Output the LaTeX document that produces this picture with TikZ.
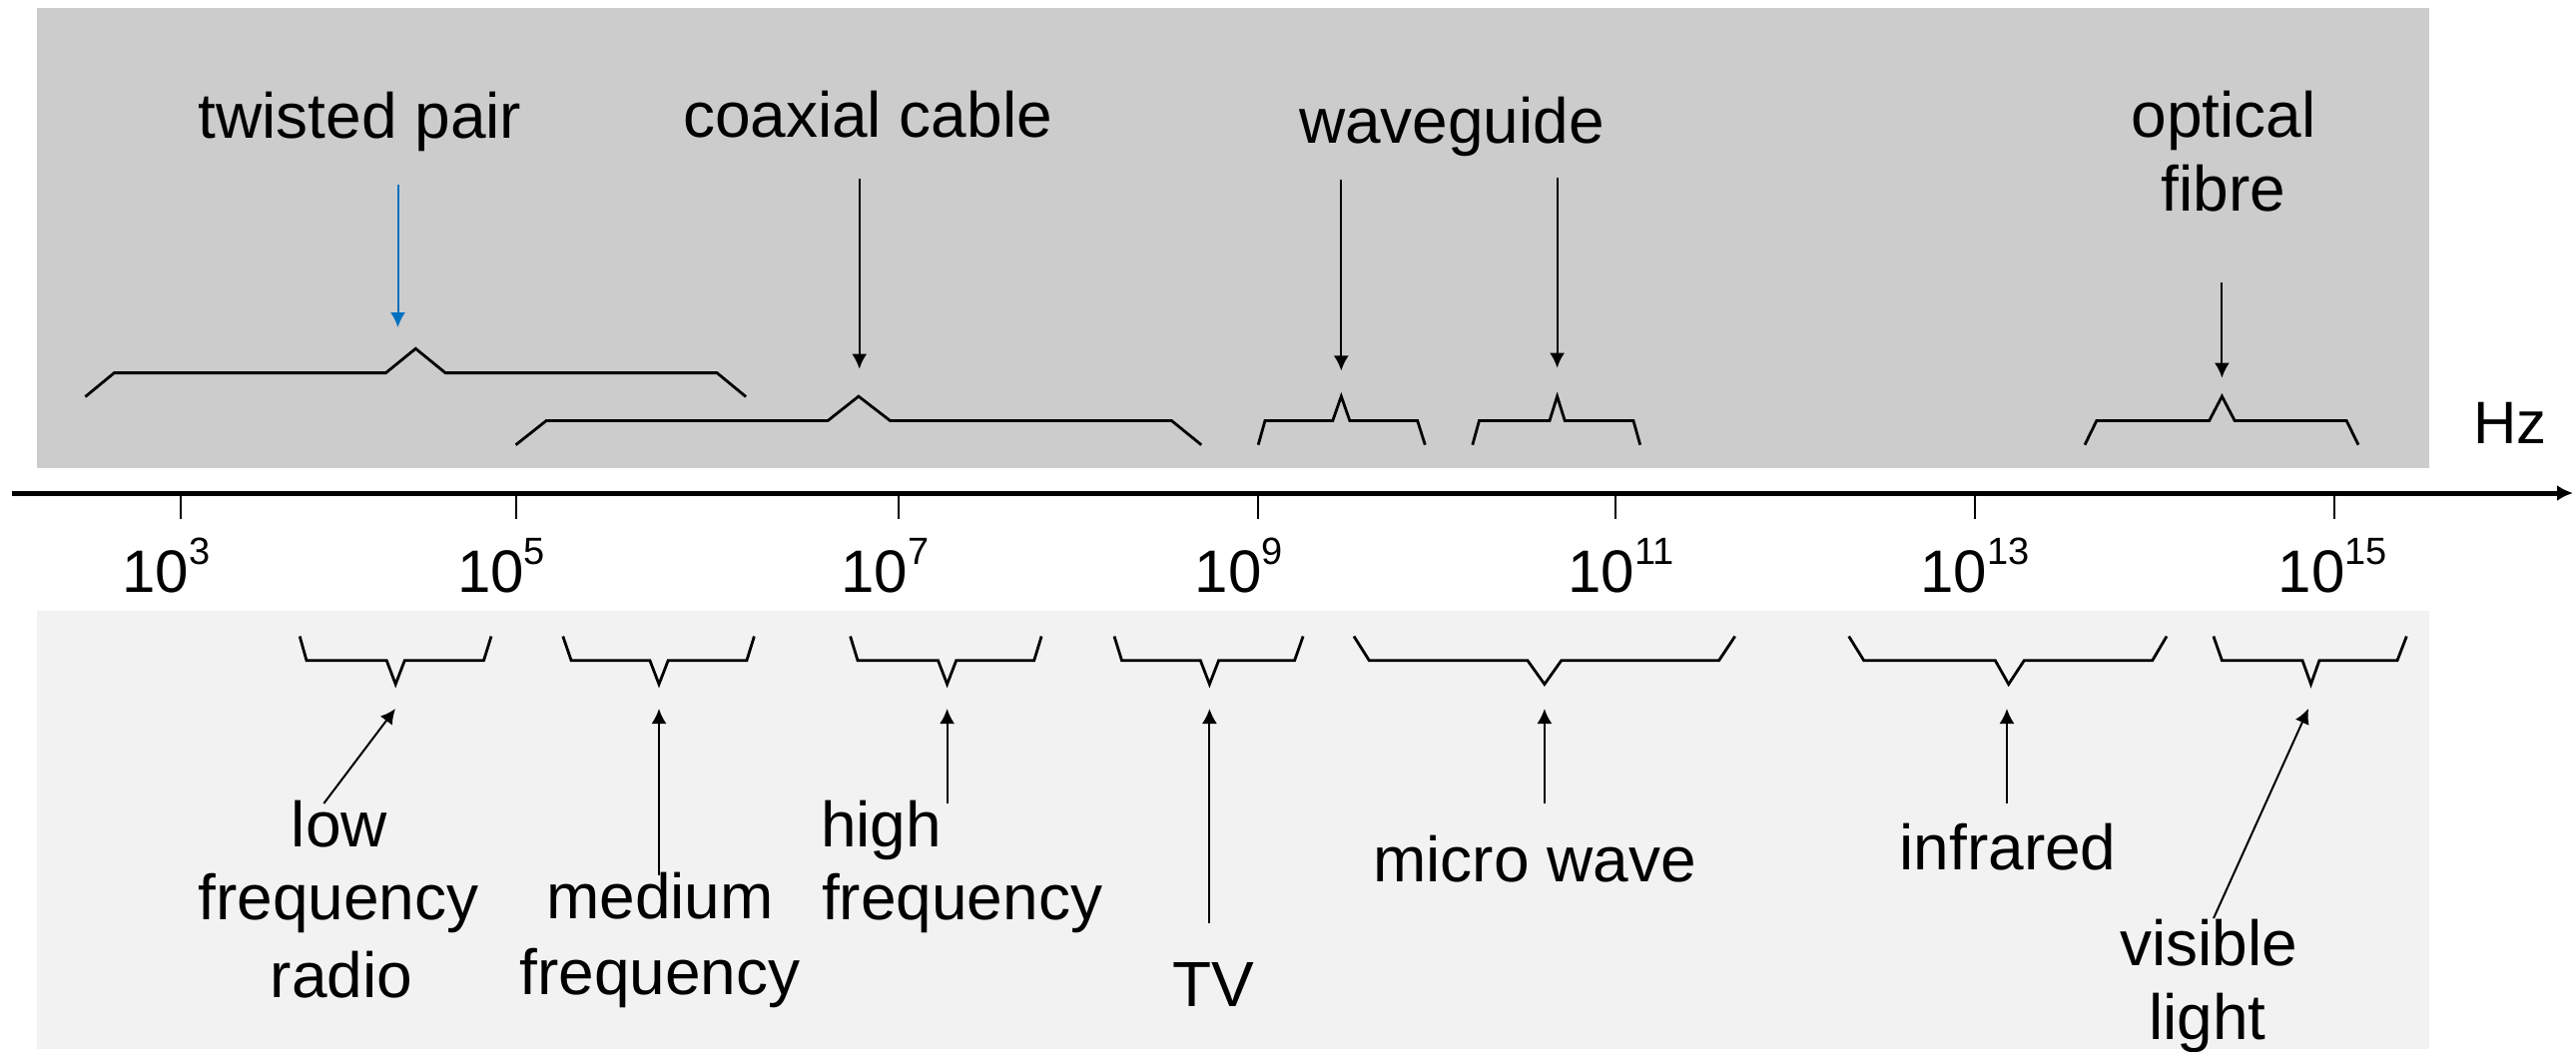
\documentclass[tikz,border=0pt]{standalone}
\usepackage{fontspec}
\setmainfont{Liberation Sans}
\usetikzlibrary{arrows.meta}
\definecolor{topgray}{RGB}{204,204,204}
\definecolor{botgray}{RGB}{242,242,242}
\definecolor{tpblue}{RGB}{0,112,192}
\newcommand\tenpow[1]{10\raisebox{14pt}{\fontsize{19}{19}\selectfont #1}}
\begin{document}
\begin{tikzpicture}[x=0.5pt,y=-0.5pt,
  lbl/.style={inner sep=0pt, outer sep=0pt, anchor=base, font=\fontsize{32}{38}\selectfont},
  lblw/.style={lbl, anchor=base west},
  ticklbl/.style={inner sep=0pt, outer sep=0pt, anchor=base west, font=\fontsize{30}{36}\selectfont},
  brace/.style={line width=1.4pt, line join=miter},
  pointer/.style={line width=1pt, -{Latex[length=7.5pt,width=7.5pt]}},
  tickline/.style={line width=1pt},
  axisline/.style={line width=2.5pt, -{Latex[length=8pt,width=8pt]}}
  ]
\useasboundingbox (0,0) rectangle (2580,1054);
\fill[white] (0,0) rectangle (2580,1054);
% panels
\fill[topgray] (37,8) rectangle (2433,469);
\fill[botgray] (37,612) rectangle (2433,1051);

% axis
\coordinate (axL) at (12,494);
\coordinate (axR) at (2577,494);
\draw[axisline] (axL) -- (axR);
\node[lbl, anchor=base, font=\fontsize{30}{36}\selectfont] (hz) at (2514,444) {Hz};

% ticks
\foreach \x/\n in {181/t3,516.5/t5,900/t7,1260.3/t9,1618/t11,1978/t13,2337.5/t15}{
  \coordinate (\n) at (\x,494);
  \draw[tickline] (\n) -- ++(0,26);
}
\node[ticklbl] (l3)  at (122.3,593) {\tenpow{3}};
\node[ticklbl] (l5)  at (458.1,593) {\tenpow{5}};
\node[ticklbl] (l7)  at (842.5,593) {\tenpow{7}};
\node[ticklbl] (l9)  at (1196.7,593) {\tenpow{9}};
\node[ticklbl] (l11) at (1570.5,593) {\tenpow{11}};
\node[ticklbl] (l13) at (1923.5,593) {\tenpow{13}};
\node[ticklbl] (l15) at (2281.9,593) {\tenpow{15}};

% ---------- top: transmission media ----------
\node[lbl] (tp) at (360.5,139) {twisted pair};
\node[lbl] (cx) at (869,138) {coaxial cable};
\node[lbl] (wg) at (1454,143) {waveguide};
\node[lbl] (ofA) at (2227,137.5) {optical};
\node[lbl] (ofB) at (2227,211) {fibre};

% braces (top)
\draw[brace] (85.4,397.5) -- (114.4,373.6) -- (386.4,373.6) -- (416.3,349.3) -- (446.1,373.6) -- (718.1,373.6) -- (747.1,397.5);
\draw[brace] (516.6,445.7) -- (547.3,421.4) -- (829.2,421.4) -- (859.9,397.1) -- (891.4,421.4) -- (1173.3,421.4) -- (1203.2,445.7);
\draw[brace] (1260.2,445.7) -- (1267,421.4) -- (1334.8,421.4) -- (1343.3,397.1) -- (1351.8,421.4) -- (1419.6,421.4) -- (1427.3,445.7);
\draw[brace] (1474.8,445.7) -- (1481.5,421.4) -- (1552,421.4) -- (1559.6,397.1) -- (1567.2,421.4) -- (1635.9,421.4) -- (1642.7,445.7);
\draw[brace] (2088,445.7) -- (2099.9,421.4) -- (2212.7,421.4) -- (2225.4,397.1) -- (2238.1,421.4) -- (2350.1,421.4) -- (2362,445.7);

% arrows (top)
\coordinate (tpS) at (398.5,185);   \coordinate (tpT) at (398.5,328);
\coordinate (cxS) at (860.7,178.6); \coordinate (cxT) at (860.7,369.6);
\coordinate (wgS1) at (1343.3,180.4); \coordinate (wgT1) at (1343.3,371.4);
\coordinate (wgS2) at (1559.6,177.9); \coordinate (wgT2) at (1559.6,368.6);
\coordinate (ofS) at (2225.4,283.2); \coordinate (ofT) at (2225.4,378.6);
\draw[pointer, tpblue] (tpS) -- (tpT);
\draw[pointer] (cxS) -- (cxT);
\draw[pointer] (wgS1) -- (wgT1);
\draw[pointer] (wgS2) -- (wgT2);
\draw[pointer] (ofS) -- (ofT);

% ---------- bottom: frequency bands ----------
\node[lbl] (lfA) at (340,848.3) {low};
\node[lbl] (lfB) at (339,921.7) {frequency};
\node[lbl] (lfC) at (342,999.3) {radio};
\node[lbl] (mfA) at (661,920.7) {medium};
\node[lbl] (mfB) at (661,996) {frequency};
\node[lblw] (hfA) at (822,848.3) {high};
\node[lblw] (hfB) at (823,921.7) {frequency};
\node[lbl] (tv) at (1215,1008.3) {TV};
\node[lbl] (mw) at (1537,883.3) {micro wave};
\node[lbl] (ir) at (2011,871.7) {infrared};
\node[lbl] (vlA) at (2212,967) {visible};
\node[lbl] (vlB) at (2211,1041) {light};

% braces (bottom)
\draw[brace] (300.2,637.5) -- (307,661.7) -- (387.2,661.7) -- (396.2,685.5) -- (405.3,661.7) -- (484.5,661.7) -- (492,637.5);
\draw[brace] (563.8,637.5) -- (572.1,661.7) -- (650.9,661.7) -- (660,685.5) -- (669.2,661.7) -- (747.9,661.7) -- (755.4,637.5);
\draw[brace] (851.6,637.5) -- (859,661.7) -- (939.5,661.7) -- (948.6,685.5) -- (957.7,661.7) -- (1035.7,661.7) -- (1043.1,637.5);
\draw[brace] (1116,637.5) -- (1123.5,661.7) -- (1202.3,661.7) -- (1211.4,685.5) -- (1220.6,661.7) -- (1296.6,661.7) -- (1305.1,637.5);
\draw[brace] (1356,637.5) -- (1371.3,661.7) -- (1529.9,661.7) -- (1546.9,685.5) -- (1563.8,661.7) -- (1721.6,661.7) -- (1737.7,637.5);
\draw[brace] (1851.7,637.5) -- (1866.7,661.7) -- (1998.3,661.7) -- (2011.7,685.5) -- (2027.3,661.7) -- (2155.7,661.7) -- (2170,637.5);
\draw[brace] (2216.9,637.5) -- (2225.4,661.7) -- (2306,661.7) -- (2314.5,685.5) -- (2322.9,661.7) -- (2401,661.7) -- (2410.3,637.5);

% arrows (bottom)
\coordinate (lfS) at (324.3,805);   \coordinate (lfT) at (396,710);
\coordinate (mfS) at (660,876.7);   \coordinate (mfT) at (660,710);
\coordinate (hfS) at (948.6,805);   \coordinate (hfT) at (948.6,710);
\coordinate (tvS) at (1211.4,925);  \coordinate (tvT) at (1211.4,710);
\coordinate (mwS) at (1546.9,805);  \coordinate (mwT) at (1546.9,710);
\coordinate (irS) at (2010,805);    \coordinate (irT) at (2010,710);
\coordinate (vlS) at (2217,920);    \coordinate (vlT) at (2312,710);
\foreach \a in {lf,mf,hf,tv,mw,ir,vl}{
  \draw[pointer] (\a S) -- (\a T);
}
\end{tikzpicture}
\end{document}
